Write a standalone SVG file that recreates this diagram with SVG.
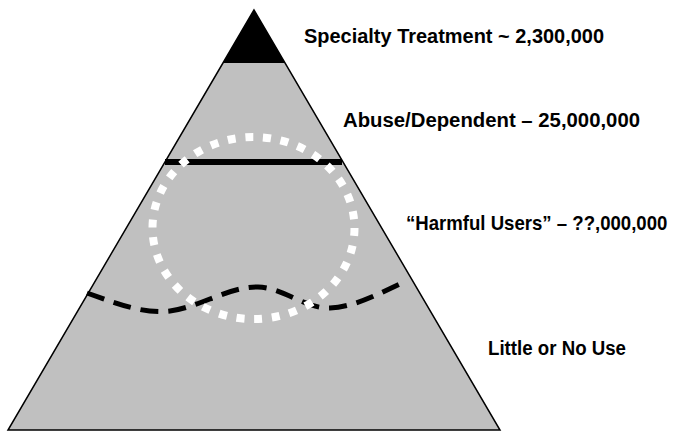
<svg xmlns="http://www.w3.org/2000/svg" width="675" height="431" viewBox="0 0 675 431">
<style>
.lbl{font-family:"Liberation Sans",Arial,sans-serif;font-weight:bold;font-size:20px;fill:#000}
</style>
<rect width="675" height="431" fill="#fff"/>
<g id="pyramid">
<polygon points="254,10 8,430 500,430" fill="#c0c0c0" stroke="#000" stroke-width="1.5"/>
<polygon points="254,10 223,63 285,63" fill="#000"/>
</g>
<g id="connectors">
<line id="abuse-line" x1="165" y1="162" x2="342" y2="162" stroke="#000" stroke-width="6"/>
<path id="harm-line" d="M87,293 C120,305 145,314 170,311 C200,307 230,286 258,287 C285,288 305,309 330,308 C355,307 380,293 402,283" fill="none" stroke="#000" stroke-width="5" stroke-dasharray="18 10"/>
<ellipse id="harm-circle" cx="253.5" cy="228" rx="101" ry="91" fill="none" stroke="#fff" stroke-width="8" stroke-dasharray="8 9.75"/>
</g>
<g id="label-specialty"><text class="lbl" x="304" y="43" textLength="300" lengthAdjust="spacingAndGlyphs">Specialty Treatment  ~  2,300,000</text></g>
<g id="label-abuse"><text class="lbl" x="343" y="127" textLength="297" lengthAdjust="spacingAndGlyphs">Abuse/Dependent  –  25,000,000</text></g>
<g id="label-harmful" transform="translate(406,230) scale(0.93,1)"><text class="lbl" x="0" y="0">“Harmful Users” – ??,000,000</text></g>
<g id="label-little"><text class="lbl" x="488" y="355" textLength="138" lengthAdjust="spacingAndGlyphs">Little or No Use</text></g>
</svg>
